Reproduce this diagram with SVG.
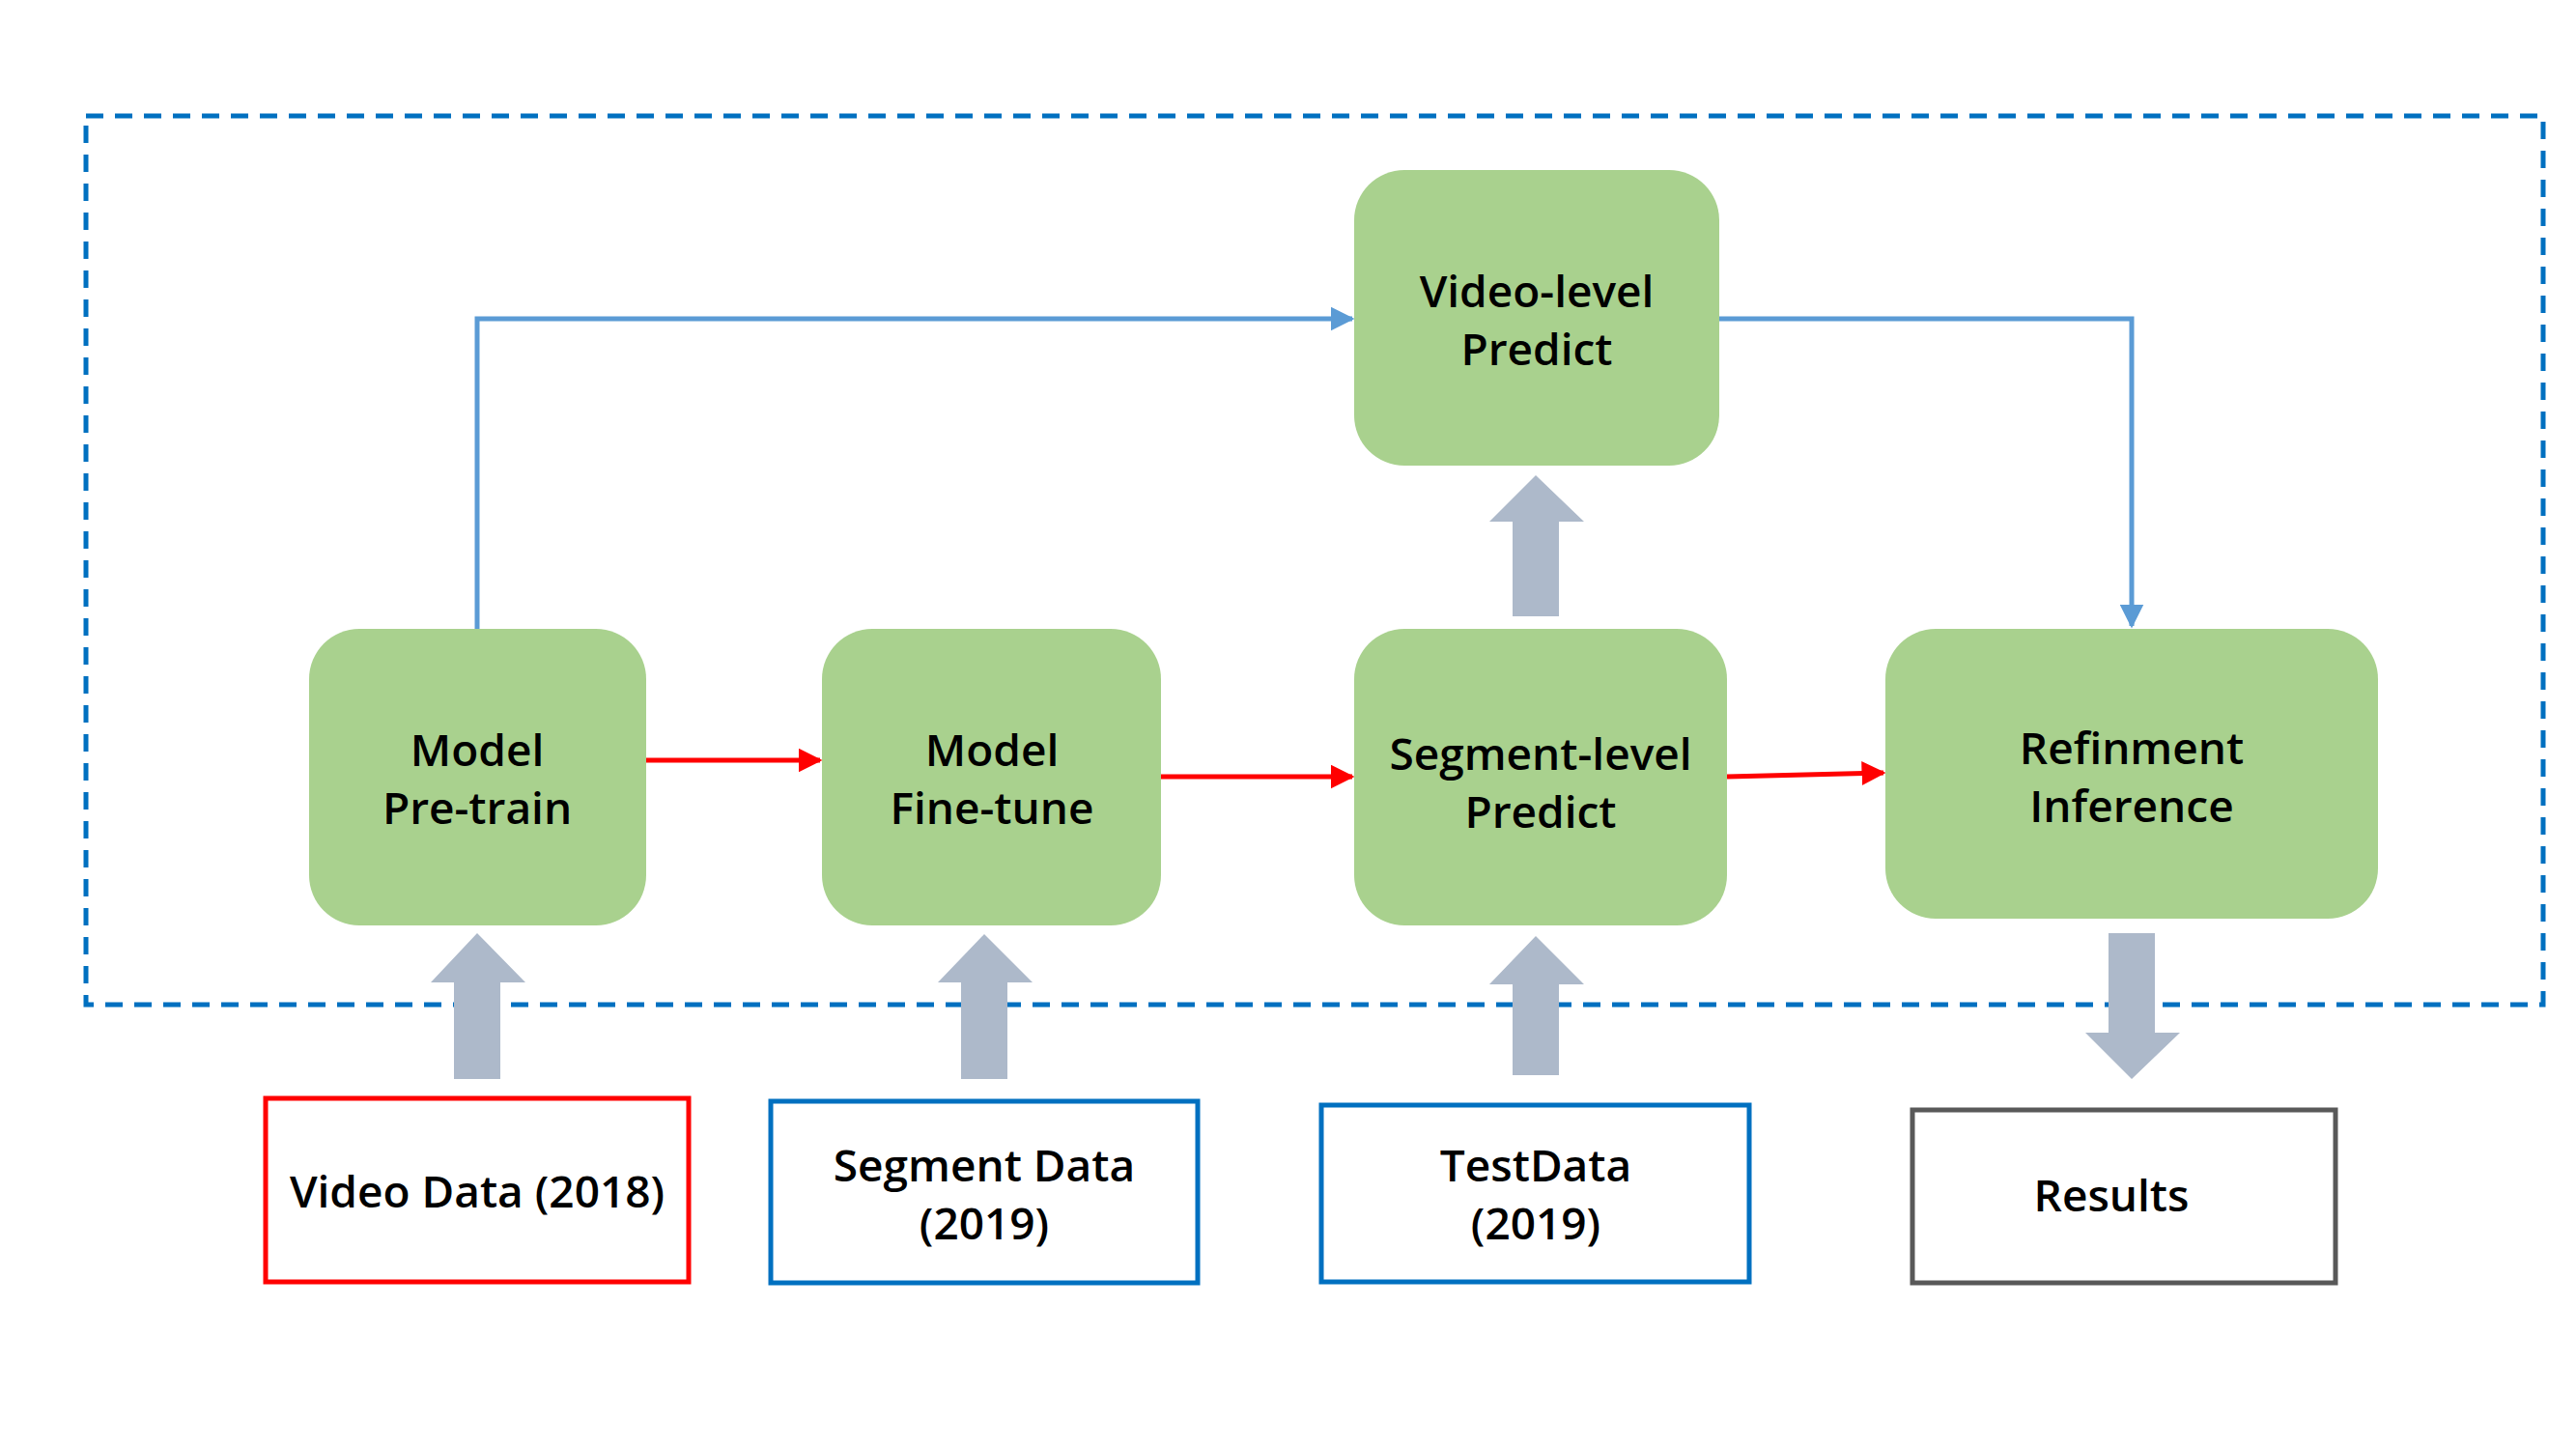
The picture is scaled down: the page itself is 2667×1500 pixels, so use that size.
<svg xmlns="http://www.w3.org/2000/svg" width="2667" height="1500" viewBox="0 0 2667 1500">
<defs>
<style>
.n{fill:#a9d18e;}
.t{font-family:"Open Sans","Noto Sans",sans-serif;font-weight:600;font-size:46px;fill:#000;text-anchor:middle;}
.b{fill:#fff;stroke-width:5;}
.g{fill:#adb9ca;}
.blue{stroke:#5b9bd5;stroke-width:5;fill:none;}
.red{stroke:#ff0000;stroke-width:5;fill:none;}
</style>
<marker id="ab" viewBox="0 0 10 10" refX="9" refY="5" markerWidth="5" markerHeight="5" orient="auto"><path d="M0,0L10,5L0,10z" fill="#5b9bd5"/></marker>
<marker id="ar" viewBox="0 0 10 10" refX="9" refY="5" markerWidth="5" markerHeight="5" orient="auto"><path d="M0,0L10,5L0,10z" fill="#ff0000"/></marker>
</defs>
<rect width="2667" height="1500" fill="#fff"/>
<rect x="89" y="120" width="2544" height="920" fill="none" stroke="#0070c0" stroke-width="5" stroke-dasharray="18 12"/>
<g id="connectors">
<polyline class="blue" points="494,651 494,330 1400,330" marker-end="url(#ab)"/>
<polyline class="blue" points="1780,330 2207,330 2207,648" marker-end="url(#ab)"/>
<line class="red" x1="669" y1="787" x2="849" y2="787" marker-end="url(#ar)"/>
<line class="red" x1="1202" y1="804" x2="1400" y2="804" marker-end="url(#ar)"/>
<line class="red" x1="1788" y1="804" x2="1950" y2="800" marker-end="url(#ar)"/>
<path class="g" d="M470,1117V1017H446L494,966L544,1017H518V1117z"/>
<path class="g" d="M995,1117V1017H971L1019,967L1069,1017H1043V1117z"/>
<path class="g" d="M1566,1113V1019H1542L1590,969L1640,1019H1614V1113z"/>
<path class="g" d="M1566,638V540H1542L1590,492L1640,540H1614V638z"/>
<path class="g" d="M2183,966V1069H2159L2207,1117L2257,1069H2231V966z"/>
</g>
<g id="video-level"><rect class="n" x="1402" y="176" width="378" height="306" rx="52"/><text class="t" x="1591" y="318">Video-level</text><text class="t" x="1591" y="378">Predict</text></g>
<g id="pretrain"><rect class="n" x="320" y="651" width="349" height="307" rx="52"/><text class="t" x="494" y="793">Model</text><text class="t" x="494" y="853">Pre-train</text></g>
<g id="finetune"><rect class="n" x="851" y="651" width="351" height="307" rx="52"/><text class="t" x="1027" y="793">Model</text><text class="t" x="1027" y="853">Fine-tune</text></g>
<g id="segment-level"><rect class="n" x="1402" y="651" width="386" height="307" rx="52"/><text class="t" x="1595" y="797">Segment-level</text><text class="t" x="1595" y="857">Predict</text></g>
<g id="refinement"><rect class="n" x="1952" y="651" width="510" height="300" rx="52"/><text class="t" x="2207" y="791">Refinment</text><text class="t" x="2207" y="851">Inference</text></g>
<g id="video-data"><rect class="b" x="275" y="1137" width="438" height="190" stroke="#ff0000"/><text class="t" x="494" y="1250">Video Data (2018)</text></g>
<g id="segment-data"><rect class="b" x="798" y="1140" width="442" height="188" stroke="#0070c0"/><text class="t" x="1019" y="1223">Segment Data</text><text class="t" x="1019" y="1283">(2019)</text></g>
<g id="test-data"><rect class="b" x="1368" y="1144" width="443" height="183" stroke="#0070c0"/><text class="t" x="1590" y="1223">TestData</text><text class="t" x="1590" y="1283">(2019)</text></g>
<g id="results"><rect class="b" x="1980" y="1149" width="438" height="179" stroke="#595959"/><text class="t" x="2186" y="1254">Results</text></g>
</svg>
